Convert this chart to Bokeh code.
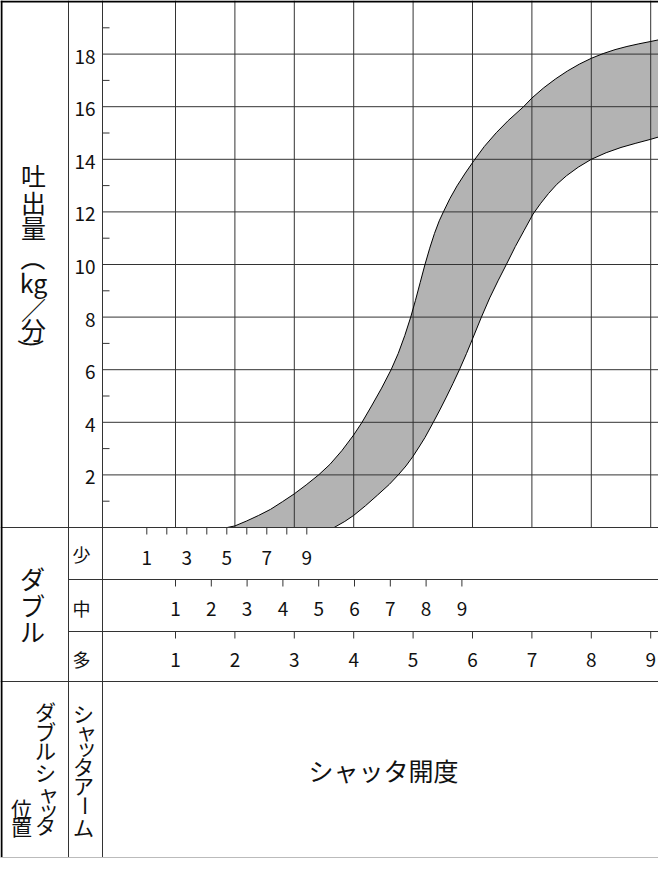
import numpy as np
from bokeh.plotting import figure
from bokeh.models import Range1d
from bokeh.core.properties import value
from bokeh.embed import file_html
from bokeh.resources import INLINE

# ---------------- data (x in 多-scale shutter units, y in kg/min) ----------------
upper_u = [1.87, 2.00, 2.20, 2.40, 2.60, 2.80, 3.00, 3.20, 3.41, 3.60, 3.80, 4.00, 4.14,
           4.30, 4.47, 4.63, 4.75, 4.86, 4.96, 5.04, 5.12, 5.20, 5.28, 5.36, 5.44, 5.51,
           5.62, 5.74, 5.88, 6.03, 6.20, 6.40, 6.60, 6.86, 7.00, 7.20, 7.40, 7.60, 7.80,
           8.00, 8.20, 8.40, 8.60, 8.80, 9.00, 9.15]
upper_y = [0.00, 0.06, 0.25, 0.46, 0.69, 0.98, 1.28, 1.62, 2.00, 2.40, 2.92, 3.52, 4.00,
           4.62, 5.30, 6.00, 6.62, 7.30, 8.00, 8.64, 9.32, 10.00, 10.62, 11.18, 11.66, 12.00,
           12.51, 12.99, 13.48, 13.97, 14.49, 15.01, 15.47, 16.00, 16.33, 16.72, 17.06, 17.36, 17.62,
           17.84, 18.02, 18.17, 18.29, 18.39, 18.48, 18.55]
lower_u = [3.67, 3.85, 4.00, 4.20, 4.40, 4.60, 4.75, 4.88, 5.00, 5.10, 5.20, 5.34, 5.45,
           5.56, 5.67, 5.78, 5.90, 6.02, 6.15, 6.29, 6.43, 6.57, 6.72, 6.87, 7.02, 7.15,
           7.28, 7.42, 7.58, 7.78, 8.00, 8.25, 8.50, 8.75, 9.00, 9.15]
lower_y = [0.00, 0.23, 0.46, 0.83, 1.23, 1.64, 2.00, 2.34, 2.71, 3.06, 3.42, 4.00, 4.47,
           4.96, 5.47, 6.00, 6.62, 7.28, 8.00, 8.73, 9.38, 10.00, 10.68, 11.30, 11.92, 12.33,
           12.70, 13.05, 13.37, 13.70, 14.00, 14.25, 14.45, 14.61, 14.76, 14.86]

y_major = [2, 4, 6, 8, 10, 12, 14, 16, 18]
y_major_labels = ["2", "4", "6", "8", "10", "12", "14", "16", "18"]
y_minor = [1, 3, 5, 7, 9, 11, 13, 15, 17, 19]
x_grid = [1, 2, 3, 4, 5, 6, 7, 8, 9]

sho_ticks = [1, 2, 3, 4, 5, 6, 7, 8, 9]
sho_label_pos = [1, 3, 5, 7, 9]
sho_labels = ["1", "3", "5", "7", "9"]
chu_ticks = [1, 2, 3, 4, 5, 6, 7, 8, 9]
chu_labels = ["1", "2", "3", "4", "5", "6", "7", "8", "9"]
ta_ticks = [1, 2, 3, 4, 5, 6, 7, 8, 9]
ta_labels = ["1", "2", "3", "4", "5", "6", "7", "8", "9"]

y_title = ["吐", "出", "量", "（", "kg", "／", "分", ")"]
double_title = ["ダ", "ブ", "ル"]
row_names = ["少", "中", "多"]
pos_title = ["ダ", "ブ", "ル", "シ", "ャ", "ッ", "タ"]
pos_title2 = ["位", "置"]
arm_title = ["シ", "ャ", "ッ", "タ", "ア", "ー", "ム"]
x_title = "シャッタ開度"

# ---------------- layout (pixels of the canvas) ----------------
W, H = 658, 858
U1, PXU = 175.0, 59.4        # canvas x of 多=1, px per unit
Y0, PXY = 527.0, 26.3        # canvas y of 0 kg/min, px per kg/min
C1, C2 = 68, 102             # column dividers
R1, R2, R3, RB = 579, 631, 681, 857   # row lines
TICK = 7

def xu(px):
    return 1 + (px - U1) / PXU

def yv(py):
    return (Y0 - py) / PXY

def yb(py_ref):  # bottom section, compressed from reference
    return yv(R3 + (py_ref - 686) * (RB - R3) / 187.0)

JP = value("Noto Sans CJK JP")
LC = "#333333"
TC = "#111111"

p = figure(width=W, height=H, x_range=Range1d(xu(0), xu(W)), y_range=Range1d(yv(H), yv(0)),
           output_backend="svg", toolbar_location=None, x_axis_type=None, y_axis_type=None,
           min_border=0, outline_line_color=None)
p.background_fill_color = "white"
p.border_fill_color = "white"
p.extra_x_ranges = {
    "sho": Range1d(1 - 146.3 / 20.0, 1 + (W - 146.3) / 20.0),
    "chu": Range1d(1 - 175.0 / 35.8, 1 + (W - 175.0) / 35.8),
}

# band
band_u = list(upper_u) + list(reversed(lower_u))
band_y = list(upper_y) + list(reversed(lower_y))
p.patch(band_u, band_y, fill_color="#b3b3b3", line_color=None)

# grid
p.segment(x0=x_grid, x1=x_grid, y0=[0] * len(x_grid), y1=[yv(0)] * len(x_grid),
          line_color=LC, line_width=1)
p.segment(x0=[xu(C2)] * len(y_major), x1=[xu(W)] * len(y_major), y0=y_major, y1=y_major,
          line_color=LC, line_width=1)
p.segment(x0=[xu(C2)] * len(y_minor), x1=[xu(C2 + TICK)] * len(y_minor), y0=y_minor, y1=y_minor,
          line_color=LC, line_width=1)

# curves
p.line(upper_u, upper_y, line_color="black", line_width=1)
p.line(lower_u, lower_y, line_color="black", line_width=1)

# frame lines
p.segment(x0=[xu(C1), xu(C2)], x1=[xu(C1), xu(C2)], y0=[yv(0), yv(0)], y1=[yv(RB), yv(RB)],
          line_color=LC, line_width=1)
p.segment(x0=[xu(0), xu(C1), xu(C1), xu(0)], x1=[xu(W)] * 4,
          y0=[0, yv(R1), yv(R2), yv(R3)], y1=[0, yv(R1), yv(R2), yv(R3)],
          line_color=LC, line_width=1)
p.segment(x0=[xu(1)], x1=[xu(1)], y0=[yv(0)], y1=[yv(RB)], line_color="black", line_width=2)
p.segment(x0=[xu(0)], x1=[xu(W)], y0=[yv(1)], y1=[yv(1)], line_color="black", line_width=2)
p.segment(x0=[xu(0)], x1=[xu(W)], y0=[yv(RB)], y1=[yv(RB)], line_color="#bbbbbb", line_width=1)

# y tick labels
lab_dy = 2.5 / PXY
p.text(x=[xu(95)] * len(y_major), y=[v - lab_dy for v in y_major], text=y_major_labels,
       text_font=JP, text_font_size="19px", text_align="right", text_baseline="middle",
       text_color=TC)

# rows: ticks + labels
dy = TICK / PXY
p.segment(x0=sho_ticks, x1=sho_ticks, y0=[0] * 9, y1=[-dy] * 9, line_color=LC, x_range_name="sho")
p.text(x=sho_label_pos, y=[yv(557)] * 5, text=sho_labels, text_font=JP, text_font_size="19px",
       text_align="center", text_baseline="middle", text_color=TC, x_range_name="sho")
p.segment(x0=chu_ticks, x1=chu_ticks, y0=[yv(R1)] * 9, y1=[yv(R1 + TICK)] * 9, line_color=LC,
          x_range_name="chu")
p.text(x=chu_ticks, y=[yv(608)] * 9, text=chu_labels, text_font=JP, text_font_size="19px",
       text_align="center", text_baseline="middle", text_color=TC, x_range_name="chu")
p.segment(x0=ta_ticks, x1=ta_ticks, y0=[yv(R2)] * 9, y1=[yv(R2 + TICK)] * 9, line_color=LC)
p.text(x=ta_ticks, y=[yv(659)] * 9, text=ta_labels, text_font=JP, text_font_size="19px",
       text_align="center", text_baseline="middle", text_color=TC)

# vertical y title
ty = [174, 201, 226, 258, 281, 308, 328, 343]
ang = [0, 0, 0, -np.pi / 2, 0, 0, 0, -np.pi / 2]
p.text(x=[xu(33)] * len(y_title), y=[yv(v) for v in ty], text=y_title, angle=ang,
       text_font=JP, text_font_size="25px", text_align="center", text_baseline="middle",
       text_color=TC)

# ダブル and 少中多
p.text(x=[xu(32)] * 3, y=[yv(v) for v in [577.5, 604, 630]], text=double_title, text_font=JP,
       text_font_size="25px", text_align="center", text_baseline="middle", text_color=TC)
p.text(x=[xu(81)] * 3, y=[yv(v) for v in [553, 607, 658]], text=row_names, text_font=JP,
       text_font_size="18px", text_align="center", text_baseline="middle", text_color=TC)

# bottom section
small = [0, 0, 0, 0, 1, 1, 0]
p.text(x=[xu(45 + 3 * s) for s in small],
       y=[yb(v + 2 * s) for v, s in zip([717, 739, 759, 782, 801, 818, 838], small)],
       text=pos_title, text_font=JP, text_font_size="21px", text_align="center",
       text_baseline="middle", text_color=TC)
p.text(x=[xu(21)] * 2, y=[yb(v) for v in [820, 840]], text=pos_title2,
       text_font=JP, text_font_size="21px", text_align="center", text_baseline="middle",
       text_color=TC)
small2 = [0, 1, 1, 0, 0, 0, 0]
p.text(x=[xu(83 + 3 * s) for s in small2],
       y=[yb(v) for v in [719, 738, 755, 776, 796, 818, 841]], text=arm_title,
       angle=[0, 0, 0, 0, 0, np.pi / 2, 0],
       text_font=JP, text_font_size="21px", text_align="center", text_baseline="middle",
       text_color=TC)
p.text(x=[xu(383)], y=[yb(780)], text=[x_title], text_font=JP, text_font_size="25px",
       text_align="center", text_baseline="middle", text_color=TC)

open("out.html", "w").write(file_html(p, INLINE))
